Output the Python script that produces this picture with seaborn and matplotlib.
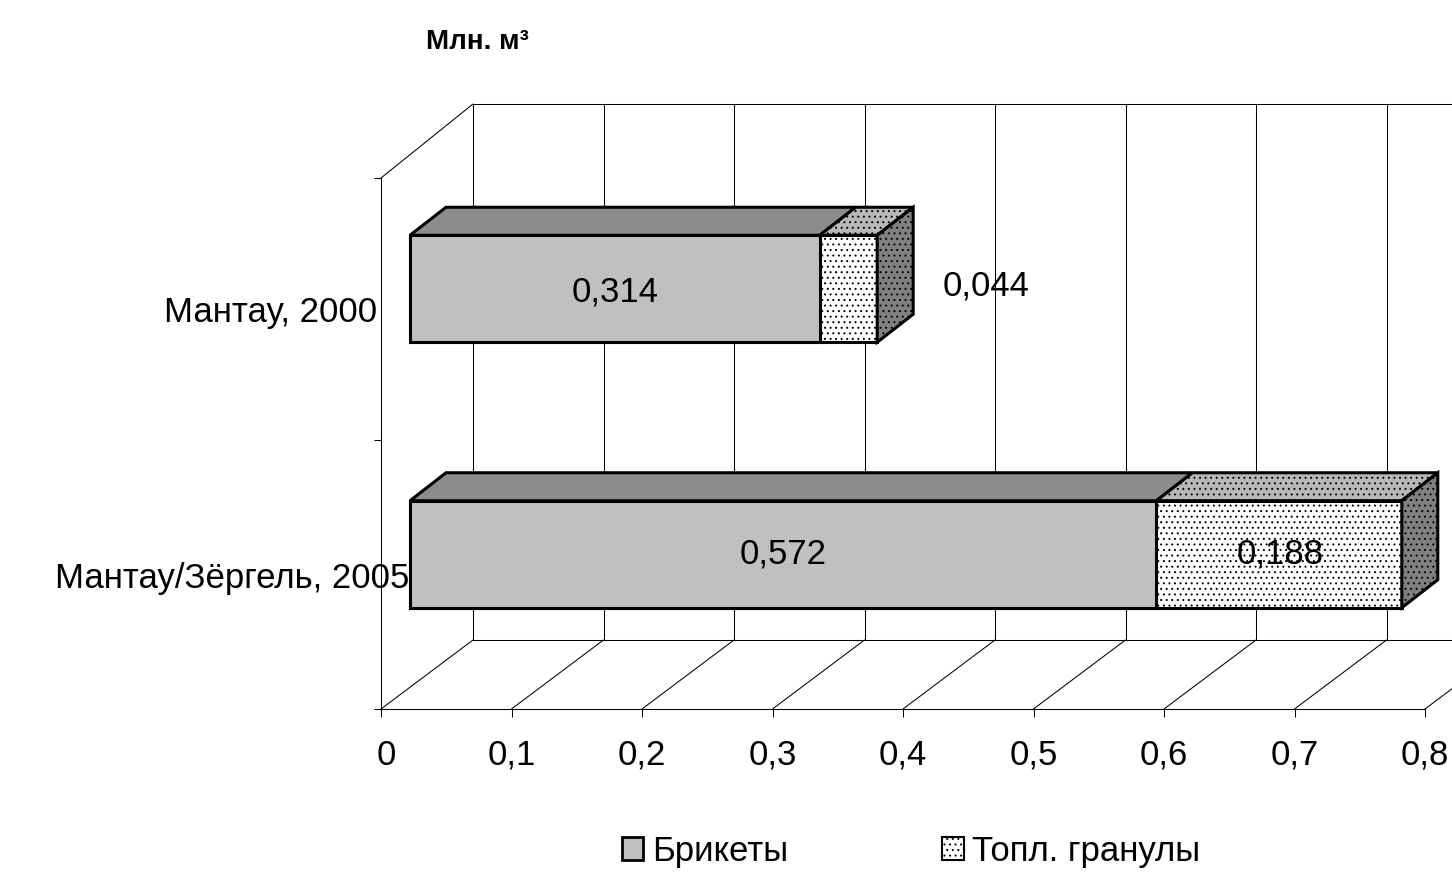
import pandas as pd
import seaborn as sns
import matplotlib.pyplot as plt
from matplotlib.patches import Patch, Polygon
from matplotlib.transforms import Affine2D

sns.set_style("white")
plt.rcParams['font.family'] = ['Liberation Sans', 'DejaVu Sans']
plt.rcParams['text.color'] = 'black'
plt.rcParams['xtick.labelcolor'] = 'black'
plt.rcParams['ytick.labelcolor'] = 'black'
plt.rcParams['hatch.linewidth'] = 0.7

categories = ["Мантау, 2000", "Мантау/Зёргель, 2005"]
briquettes = [0.314, 0.572]
pellets = [0.044, 0.188]
series_names = ["Брикеты", "Топл. гранулы"]
x_ticks = [0, 0.1, 0.2, 0.3, 0.4, 0.5, 0.6, 0.7, 0.8]
x_tick_labels = ["0", "0,1", "0,2", "0,3", "0,4", "0,5", "0,6", "0,7", "0,8"]
title = "Млн. м³"

W, H = 1452, 874
FS = 25
DOTS = "..."
df = pd.DataFrame({"cat": categories, "briq": briquettes, "pell": pellets})
df["total"] = df["briq"] + df["pell"]

fig = plt.figure(figsize=(W / 100, H / 100), dpi=100)
ax = fig.add_axes([381 / W, 1 - 709 / H, (1425 - 381) / W, (709 - 178) / H])

# stacked bars: total behind, first series on top of it
sns.barplot(data=df, x="total", y="cat", color="white", saturation=1, width=0.403,
            edgecolor="black", linewidth=2.2, hatch=DOTS, ax=ax, zorder=3)
sns.barplot(data=df, x="briq", y="cat", color="#c0c0c0", saturation=1, width=0.403,
            edgecolor="black", linewidth=2.2, ax=ax, zorder=3)
ax.set_xlim(0, 0.8)
ax.set_ylim(1.5, -0.5)
ax.set_xlabel("")
ax.set_ylabel("")

# bars sit in the middle of the fake 3d floor
shift_x, shift_y = 29 / 1305, -22 / 265.5
shifted = Affine2D().translate(shift_x, shift_y) + ax.transData
for p in ax.patches:
    p.set_transform(shifted)

# depth faces
dx, dy = 36 / 1305, -28 / 265.5
half = 0.403 / 2
for i, row in df.iterrows():
    top = i - half
    bot = i + half
    for a, b, col, h in [(0, row["briq"], "#8c8c8c", None), (row["briq"], row["total"], "#b8b8b8", DOTS)]:
        ax.add_patch(Polygon([(a, top), (b, top), (b + dx, top + dy), (a + dx, top + dy)],
                             facecolor=col, edgecolor="black", lw=2.2, hatch=h,
                             transform=shifted, zorder=4, clip_on=False))
    e = row["total"]
    ax.add_patch(Polygon([(e, top), (e + dx, top + dy), (e + dx, bot + dy), (e, bot)],
                         facecolor="#808080", edgecolor="black", lw=2.2, hatch=DOTS,
                         transform=shifted, zorder=4, clip_on=False))

# back wall and floor
back_x = 92 / 1305
back_top = -0.5 - 74 / 265.5
back_bot = 1.5 - 69 / 265.5
for t in x_ticks:
    ax.plot([t + back_x, t + back_x], [back_top, back_bot], color="black", lw=0.75, zorder=1, clip_on=False)
    ax.plot([t, t + back_x], [1.5, back_bot], color="black", lw=0.75, zorder=1, clip_on=False)
ax.plot([back_x, 0.8 + 2 * back_x], [back_top, back_top], color="black", lw=0.75, zorder=1, clip_on=False)
ax.plot([back_x, 0.8 + 2 * back_x], [back_bot, back_bot], color="black", lw=0.75, zorder=1, clip_on=False)
ax.plot([0, back_x], [-0.5, back_top], color="black", lw=0.75, zorder=1, clip_on=False)

for name, s in ax.spines.items():
    s.set_visible(name in ("left", "bottom"))
    s.set_linewidth(0.75)
    s.set_color("black")

ax.set_xticks(x_ticks)
ax.set_xticklabels(x_tick_labels, fontsize=FS, va="baseline")
ax.tick_params(axis="x", bottom=True, length=5.5, width=0.75, pad=34.5, color="black")
first = ax.get_xticklabels()[0]
first.set_transform(first.get_transform() + Affine2D().translate(5, 0))
ax.set_yticks([-0.5, 0.488, 1.5])
ax.set_yticklabels([])
ax.tick_params(axis="y", left=True, length=5, width=0.75, color="black")
ax.set_yticks([0, 1], labels=categories, minor=True, fontsize=FS)
ax.tick_params(axis="y", which="minor", left=False, pad=1)
# long label runs up to the bar in the original
labs = ax.get_yticklabels(minor=True)
labs[0].set_transform(labs[0].get_transform() + Affine2D().translate(0, 2))
labs[1].set_transform(labs[1].get_transform() + Affine2D().translate(33, 1))

# value labels
val_labels = [("0,314", 0.157, 0.012), ("0,044", 0.4415, -0.012),
              ("0,572", 0.286, 1.0), ("0,188", 0.667, 1.0)]
for txt, vx, vy in val_labels:
    ax.text(vx, vy, txt, fontsize=FS, ha="center", va="center", transform=shifted, zorder=6)

fig.text(477 / W, 1 - 42 / H, title, fontsize=20, fontweight="bold", ha="center", va="center")

handles = [Patch(facecolor="#c0c0c0", edgecolor="black", lw=2),
           Patch(facecolor="white", edgecolor="black", lw=1.5, hatch=DOTS)]
fig.legend(handles, series_names, ncol=2, loc="center", bbox_to_anchor=(911 / W, 1 - 851 / H),
           frameon=False, fontsize=FS, handlelength=0.62, handleheight=0.62, handletextpad=0.25,
           columnspacing=4.44, borderpad=0)

fig.savefig("out.png", dpi=100)
